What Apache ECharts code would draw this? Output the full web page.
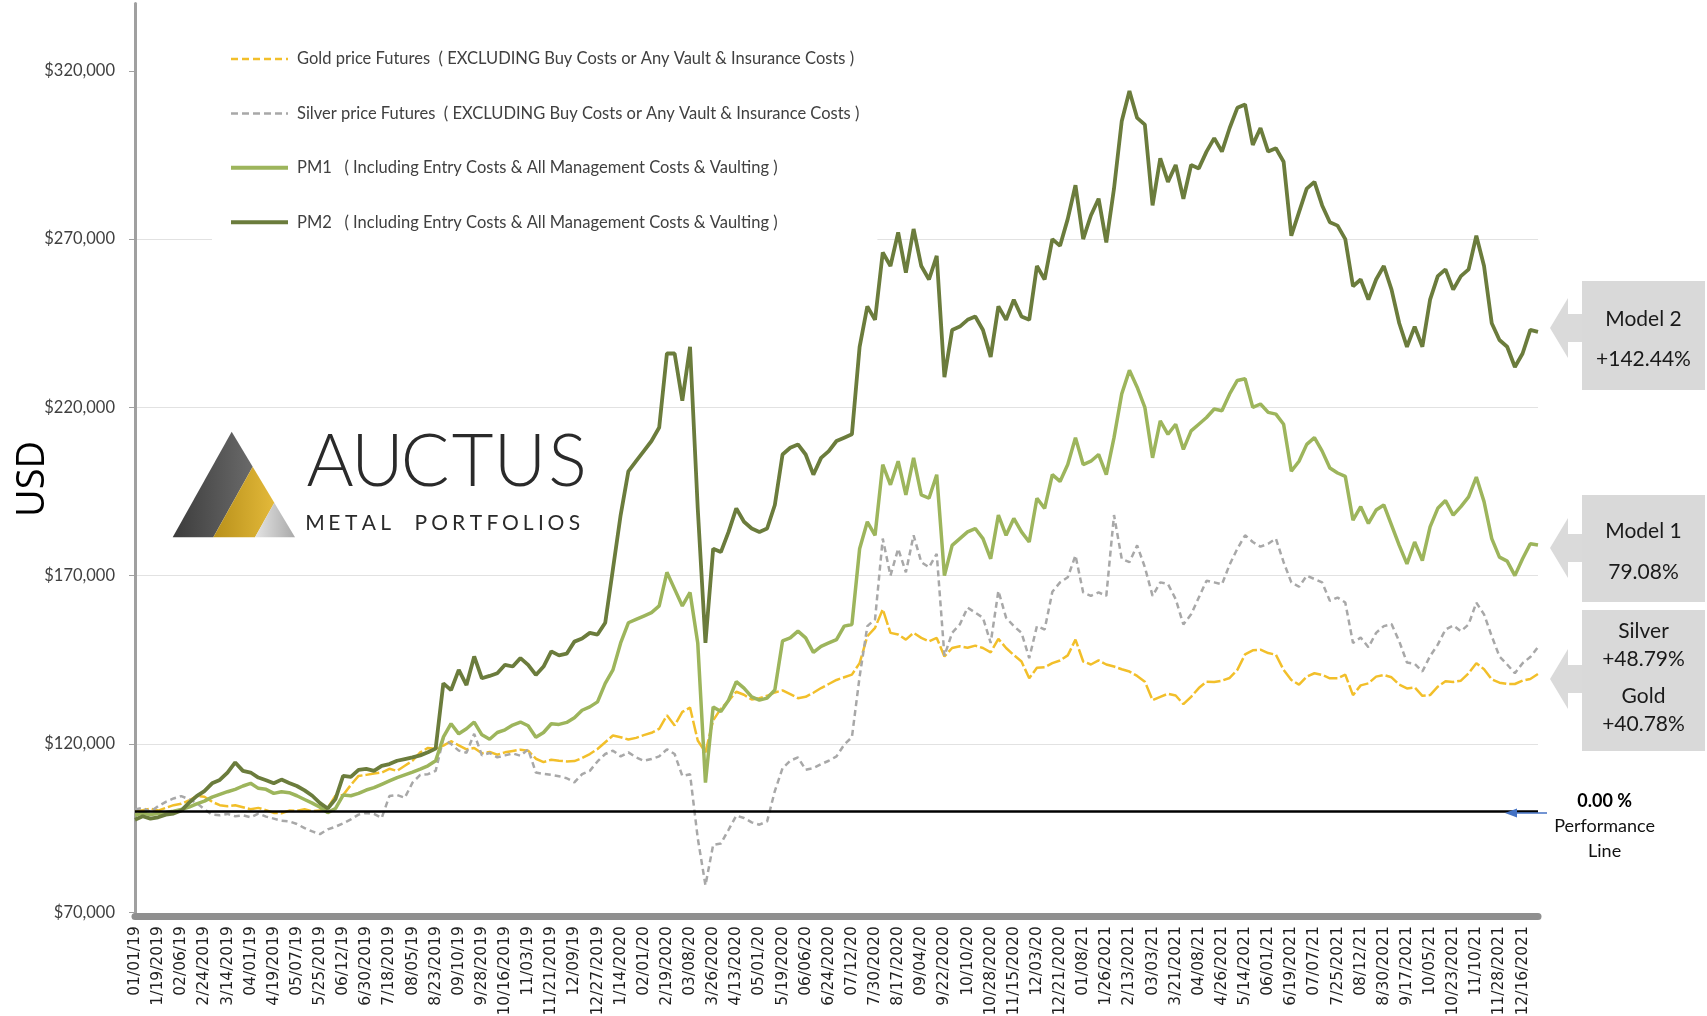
<!DOCTYPE html>
<html>
<head>
<meta charset="utf-8">
<script src="https://cdn.jsdelivr.net/npm/echarts@6/dist/echarts.min.js"></script>
<style>
html,body{margin:0;padding:0;background:#fff;}
#chart{width:1707px;height:1016px;}
</style>
</head>
<body>
<div id="chart"></div>
<script>
// ---------- DATA (values in thousands of USD, sampled every 6 days from 01/01/2019) ----------
const tickLabels = ['01/01/19','1/19/2019','02/06/19','2/24/2019','3/14/2019','04/01/19','4/19/2019','05/07/19','5/25/2019','06/12/19','6/30/2019','7/18/2019','08/05/19','8/23/2019','09/10/19','9/28/2019','10/16/2019','11/03/19','11/21/2019','12/09/19','12/27/2019','1/14/2020','02/01/20','2/19/2020','03/08/20','3/26/2020','4/13/2020','05/01/20','5/19/2020','06/06/20','6/24/2020','07/12/20','7/30/2020','8/17/2020','09/04/20','9/22/2020','10/10/20','10/28/2020','11/15/2020','12/03/20','12/21/2020','01/08/21','1/26/2021','2/13/2021','03/03/21','3/21/2021','04/08/21','4/26/2021','5/14/2021','06/01/21','6/19/2021','07/07/21','7/25/2021','08/12/21','8/30/2021','9/17/2021','10/05/21','10/23/2021','11/10/21','11/28/2021','12/16/2021'];

const yTickValues = [70, 120, 170, 220, 270, 320];

const seriesNames = [
  'Gold price Futures  ( EXCLUDING Buy Costs or Any Vault & Insurance Costs )',
  'Silver price Futures  ( EXCLUDING Buy Costs or Any Vault & Insurance Costs )',
  'PM1   ( Including Entry Costs & All Management Costs & Vaulting )',
  'PM2   ( Including Entry Costs & All Management Costs & Vaulting )'
];

const goldValues = [
100,100.3,100.8,100.2,101,101.8,102.2,103.2,104.5,104.3,
102.8,101.8,101.5,101.8,101.2,100.6,101,100.3,99.5,99.4,
100.2,100.1,100.6,100,100.2,101,104.6,104.8,107.8,110.5,
110.8,111.2,111.5,112.6,112,113.5,115,117.5,118.8,118.6,
119.5,120.8,119.6,118.4,118.8,117.2,117.6,116.8,117.5,117.9,
118.3,118,115.6,114.6,115.3,115,114.8,114.9,115.8,117,
118.5,120.5,122.5,122,121.3,121.8,122.6,123.3,124.5,128.5,
125.5,129.5,130.8,121,117.5,127,130.5,132.8,135.5,134.6,
133.2,133.6,134.3,135.3,135.9,134.8,133.6,134,135.2,136.6,
137.8,139,139.8,140.6,144,152,154.5,160,153,152.5,
151,153,151.5,150.5,151.5,146,148.5,149,148.6,149.2,
148.5,147.2,151.2,148.5,146.4,144.5,139.5,142.6,142.8,144,
144.8,146.3,151,144.5,143.6,144.8,143.6,143,142.2,141.5,
140.2,138.5,133,134,134.9,134.4,131.8,134,136.6,138.5,
138.4,138.8,139.6,142,146.6,147.8,148,147,146.5,142,
139,137.6,140,141,140.5,139.5,139.5,140.6,134.5,137.4,
138,140,140.5,139.8,137.6,136.5,136.8,134.3,134.5,137,
138.6,138.4,138.8,141,144,142.2,139.2,138.2,137.8,137.8,
138.8,139.3,140.78];

const silverValues = [
100.5,101,99.8,101.5,102.8,103.8,104.5,103.6,102.4,100.6,
99,98.8,99.2,98.5,98.8,98.2,99.3,98.4,97.8,97.2,
97,96.2,95,94,93.2,94.6,95.4,96.4,97.6,99,
99.5,99.2,98,104.5,104.8,104,108.5,110.8,111,112,
121.5,120,118,117.4,123,116.6,117.3,116,116.6,117.2,
116.5,118.4,111.5,111.1,110.8,110.4,109.8,108.6,111,112,
114.8,117,118,116.3,117.5,116,115,115.5,116.3,118.4,
117,110.5,111,92,78,90,90.4,94.5,98.7,98,
96.7,96,97,106,112.8,115,116,112.3,112.8,114,
115,116.3,119.8,122,140,155,157,181,170,178,
171,182,174,172.5,176.5,146.2,153,155.5,160.5,159,
157.5,150,165.5,157.5,155,153,145.5,155,154,165.2,
168,169.5,176,165,164,165,164,188,175,174,
179,172.5,164,168,167.5,163,155.5,158.5,163.5,168.5,
168,167.4,173.3,178,182,180,178.6,179.5,181,174,
168,166.7,170,169,168,162.5,163.5,162,150,151.6,
148.7,153,155,155.6,150.5,144.2,143.8,141.5,146.1,149.5,
154,155.2,153.5,155.5,162,158.5,152,146,143.6,141,
144,145.8,148.79];

const pm1Values = [
98.8,99.5,99,99.3,99.6,100,100.5,101.2,102.2,103,
104.2,105,105.8,106.5,107.5,108.3,106.8,106.5,105.3,105.8,
105.5,104.6,103.5,102.4,101.2,99.6,100.8,104.8,104.6,105.3,
106.3,107,108,109,110,110.8,111.6,112.5,113.5,115,
122,126,123,124.5,126.5,122.7,121.4,123.4,124.2,125.6,
126.5,125.4,122,123.4,126,125.8,126.4,127.8,130,131,
132.5,138,142,150,156,157,158,159,161,171,
166,161,165,150,108.5,131,129.6,133,138.5,136.6,
134,133,133.6,136,150.6,151.5,153.5,151.5,147.2,149,
150,151,155,155.5,178,186,182,203,197,204,
194,205,194,193,200,170,179,181,183,184,
181,175,188,182,187,183,180,193,190,200,
198,203,211,203,204,206,200,211,224,231,
226,220,205,216,212,215,207.5,213,215,217,
219.5,219,224,228,228.5,220,221,218.5,218,215,
201,204,209,211,207,202,200.5,199.5,186.5,190.5,
185.5,189.5,191,185,179,173.5,180,174.5,184.5,190,
192.3,188,190.5,193.4,199.3,192,181,175.5,174.3,170,
175,179.5,179.08];

const pm2Values = [
97.5,98.5,97.8,98.2,99,99.3,100.2,102.5,104.5,106,
108.3,109.3,111.5,114.5,112,111.5,110,109.2,108.3,109.4,
108.4,107.5,106.2,104.6,102.4,100.8,103.6,110.5,110.2,112.3,
112.6,112,113.5,114,115,115.5,116,116.6,117.5,118.6,
138,136,142,137.5,146,139.5,140.2,141,143.5,143,
145.5,143.5,140.5,143,147.5,146.3,146.8,150.4,151.3,153,
152.5,156,172,188,201,204,207,210,214,236,
236,222,238,190,150,178,177,183,190,186,
184,183,184,191,206,208,209,206,200,205,
207,210,211,212,238,250,246,266,262,272,
260,273,262,258,265,229,243,244,246,247,
243,235,250,246,252,247,246,262,258,270,
268,276,286,270,277,282,269,285,305,314,
306,304,280,294,287,292,282,292,291,296,
300,296,303,309,310,298,303,296,297,293,
271,278,285,287,280,275,274,270,256,258,
252,258,262,255,245,238,244,238,252,259,
261,255,259,261,271,262,245,240,238,232,
236,243,242.44];

const baselineValue = 100;

// ---------- category axis (one category every 6 days) ----------
const categories = [];
for (let i = 0; i < pm2Values.length; i++) {
  const d = new Date(Date.UTC(2019, 0, 1 + 6 * i));
  categories.push((d.getUTCMonth() + 1) + '/' + d.getUTCDate() + '/' + d.getUTCFullYear());
}

const COLORS = { gold: '#f2bf2a', silver: '#a8a8a8', pm1: '#9db55c', pm2: '#6b7c3c' };

const chart = echarts.init(document.getElementById('chart'), null, { renderer: 'canvas' });

function txt(text, x, y, size, weight, color, family) {
  return {
    type: 'text', z: 100, silent: true,
    style: {
      text: text, x: x, y: y,
      fontSize: size, fontWeight: weight || 'normal', fontFamily: family || 'Lato',
      fill: color || '#1a1a1a',
      textAlign: 'center', align: 'center',
      textVerticalAlign: 'middle', verticalAlign: 'middle'
    }
  };
}
function arrowPts(ty) {
  return [[1550, ty], [1568, ty - 30], [1568, ty - 14], [1583, ty - 14], [1583, ty + 14], [1568, ty + 14], [1568, ty + 30]];
}

const graphics = [];
// y axis title
graphics.push({
  type: 'text', z: 100, silent: true, x: 33, y: 479, rotation: Math.PI / 2,
  style: { text: 'USD', x: 0, y: 0, fontSize: 38, fontFamily: 'Open Sans', fill: '#000',
    textAlign: 'center', align: 'center', textVerticalAlign: 'middle', verticalAlign: 'middle' }
});
// annotation boxes and arrows
[[281, 390, 328], [495, 602, 548], [610, 751, 679]].forEach(function (b) {
  graphics.push({ type: 'polygon', z: 90, silent: true, shape: { points: arrowPts(b[2]) }, style: { fill: '#dadada' } });
  graphics.push({ type: 'rect', z: 90, silent: true, shape: { x: 1582, y: b[0], width: 123, height: b[1] - b[0] }, style: { fill: '#d9d9d9' } });
});
graphics.push(txt('Model 2', 1643.5, 319, 21));
graphics.push(txt('+142.44%', 1643.5, 359, 21));
graphics.push(txt('Model 1', 1643.5, 531, 21));
graphics.push(txt('79.08%', 1643.5, 572, 21));
graphics.push(txt('Silver', 1643.5, 631, 21));
graphics.push(txt('+48.79%', 1643.5, 659, 21));
graphics.push(txt('Gold', 1643.5, 696, 21));
graphics.push(txt('+40.78%', 1643.5, 724, 21));
// performance line note
graphics.push(txt('0.00 %', 1604.6, 801, 18, 'bold', '#000'));
graphics.push(txt('Performance', 1604.6, 826, 18, 'normal', '#111'));
graphics.push(txt('Line', 1604.6, 851, 18, 'normal', '#111'));
graphics.push({ type: 'line', z: 90, silent: true, shape: { x1: 1547, y1: 813, x2: 1514, y2: 813 }, style: { stroke: '#4472c4', lineWidth: 1.5 } });
graphics.push({ type: 'polygon', z: 90, silent: true, shape: { points: [[1505, 813], [1517, 808.5], [1517, 817.5]] }, style: { fill: '#4472c4' } });

// logo
graphics.push({ type: 'polygon', z: 80, silent: true, shape: { points: [[231.7, 431.7], [172.7, 537.3], [213.3, 537.3], [252.7, 466.8]] },
  style: { fill: new echarts.graphic.LinearGradient(0, 0, 1, 0, [{ offset: 0, color: '#3c3c3c' }, { offset: 1, color: '#6a6a6a' }]) } });
graphics.push({ type: 'polygon', z: 80, silent: true, shape: { points: [[252.7, 466.8], [213.3, 537.3], [255, 537.3], [274.3, 502.8]] },
  style: { fill: new echarts.graphic.LinearGradient(0, 0, 1, 0, [{ offset: 0, color: '#b8901a' }, { offset: 1, color: '#e3b93a' }]) } });
graphics.push({ type: 'polygon', z: 80, silent: true, shape: { points: [[274.3, 502.8], [255, 537.3], [295, 537.3]] },
  style: { fill: new echarts.graphic.LinearGradient(0, 0, 1, 0, [{ offset: 0, color: '#e4e4e4' }, { offset: 1, color: '#a9a9a9' }]) } });
const logoWord = 'AUCTUS';
for (let k = 0; k < logoWord.length; k++) {
  graphics.push(txt(logoWord[k], 330 + k * 47.5, 463, 72, '300', '#2a2a2a'));
}
// letter-spaced subtitle: relative advance for each character slot
const logoSub = 'METAL PORTFOLIOS';
const subAdv = [1.3, 1.0, 1.0, 1.1, 0.9, 1.1, 1.05, 1.2, 1.05, 1.0, 0.95, 1.2, 0.9, 0.6, 1.2, 1.0];
const subTotal = subAdv.reduce(function (a, b) { return a + b; }, 0);
let subX = 304;
for (let k = 0; k < logoSub.length; k++) {
  const w = subAdv[k] * 279 / subTotal;
  if (logoSub[k] !== ' ') graphics.push(txt(logoSub[k], subX + w / 2, 523.5, 21, 'normal', '#2a2a2a'));
  subX += w;
}

const hiddenSymbol = { color: 'rgba(0,0,0,0)', borderColor: 'rgba(0,0,0,0)', borderWidth: 0, opacity: 0 };

const option = {
  animation: false,
  backgroundColor: '#ffffff',
  grid: { left: 135, right: 169, top: 3.5, bottom: 103.8, containLabel: false, outerBoundsMode: 'none' },
  legend: {
    orient: 'vertical', left: 212, top: 40,
    padding: [9, 18, 12, 17],
    backgroundColor: '#ffffff',
    itemWidth: 57, itemHeight: 14, itemGap: 34.4,
    textStyle: { fontFamily: 'Lato', fontSize: 16.5, color: '#404040', lineHeight: 20, padding: [0, 0, 0, 4] },
    data: [
      { name: seriesNames[0], itemStyle: hiddenSymbol, lineStyle: { color: COLORS.gold, width: 2.5, type: [7, 4] } },
      { name: seriesNames[1], itemStyle: hiddenSymbol, lineStyle: { color: COLORS.silver, width: 2.5, type: [7, 4] } },
      { name: seriesNames[2], itemStyle: hiddenSymbol, lineStyle: { color: COLORS.pm1, width: 4 } },
      { name: seriesNames[3], itemStyle: hiddenSymbol, lineStyle: { color: COLORS.pm2, width: 4 } }
    ],
    selectedMode: false
  },
  xAxis: {
    type: 'category', data: categories, boundaryGap: false, offset: 4,
    axisLine: { show: true, lineStyle: { color: '#8f8f8f', width: 7 } },
    axisTick: { show: false },
    splitLine: { show: false },
    axisLabel: {
      rotate: 90, margin: 10,
      interval: function (index) { return index % 3 === 0; },
      formatter: function (value, index) { return tickLabels[index / 3] || ''; },
      fontFamily: 'DejaVu Sans', fontSize: 15.5, color: '#1f1f1f'
    }
  },
  yAxis: {
    type: 'value', min: 70, max: 340, interval: 50,
    axisLine: { show: true, lineStyle: { color: '#a0a0a0', width: 3 } },
    axisTick: { show: true, length: 6, lineStyle: { color: '#a0a0a0', width: 1 }, customValues: yTickValues },
    axisLabel: {
      customValues: yTickValues, margin: 20,
      formatter: function (v) { return v > 330 ? '' : '$' + v + ',000'; },
      fontFamily: 'Lato', fontSize: 16.5, color: '#404040'
    },
    splitLine: { show: true, showMinLine: false, showMaxLine: false, lineStyle: { color: '#e2e2e2', width: 1.2 } }
  },
  series: [
    { name: seriesNames[0], type: 'line', data: goldValues, symbol: 'none', z: 2,
      lineStyle: { color: COLORS.gold, width: 2.5, type: [14, 3] }, itemStyle: { color: COLORS.gold } },
    { name: seriesNames[1], type: 'line', data: silverValues, symbol: 'none', z: 2,
      lineStyle: { color: COLORS.silver, width: 2.5, type: [6, 4] }, itemStyle: { color: COLORS.silver } },
    { name: seriesNames[2], type: 'line', data: pm1Values, symbol: 'none', z: 3,
      lineStyle: { color: COLORS.pm1, width: 3.5 }, itemStyle: { color: COLORS.pm1 } },
    { name: seriesNames[3], type: 'line', data: pm2Values, symbol: 'none', z: 3,
      lineStyle: { color: COLORS.pm2, width: 3.8 }, itemStyle: { color: COLORS.pm2 },
      markLine: { silent: true, symbol: 'none', label: { show: false }, animation: false,
        lineStyle: { color: '#000', width: 2.5, type: 'solid' }, data: [{ yAxis: baselineValue }] } }
  ],
  graphic: graphics
};
chart.setOption(option);
</script>
</body>
</html>
